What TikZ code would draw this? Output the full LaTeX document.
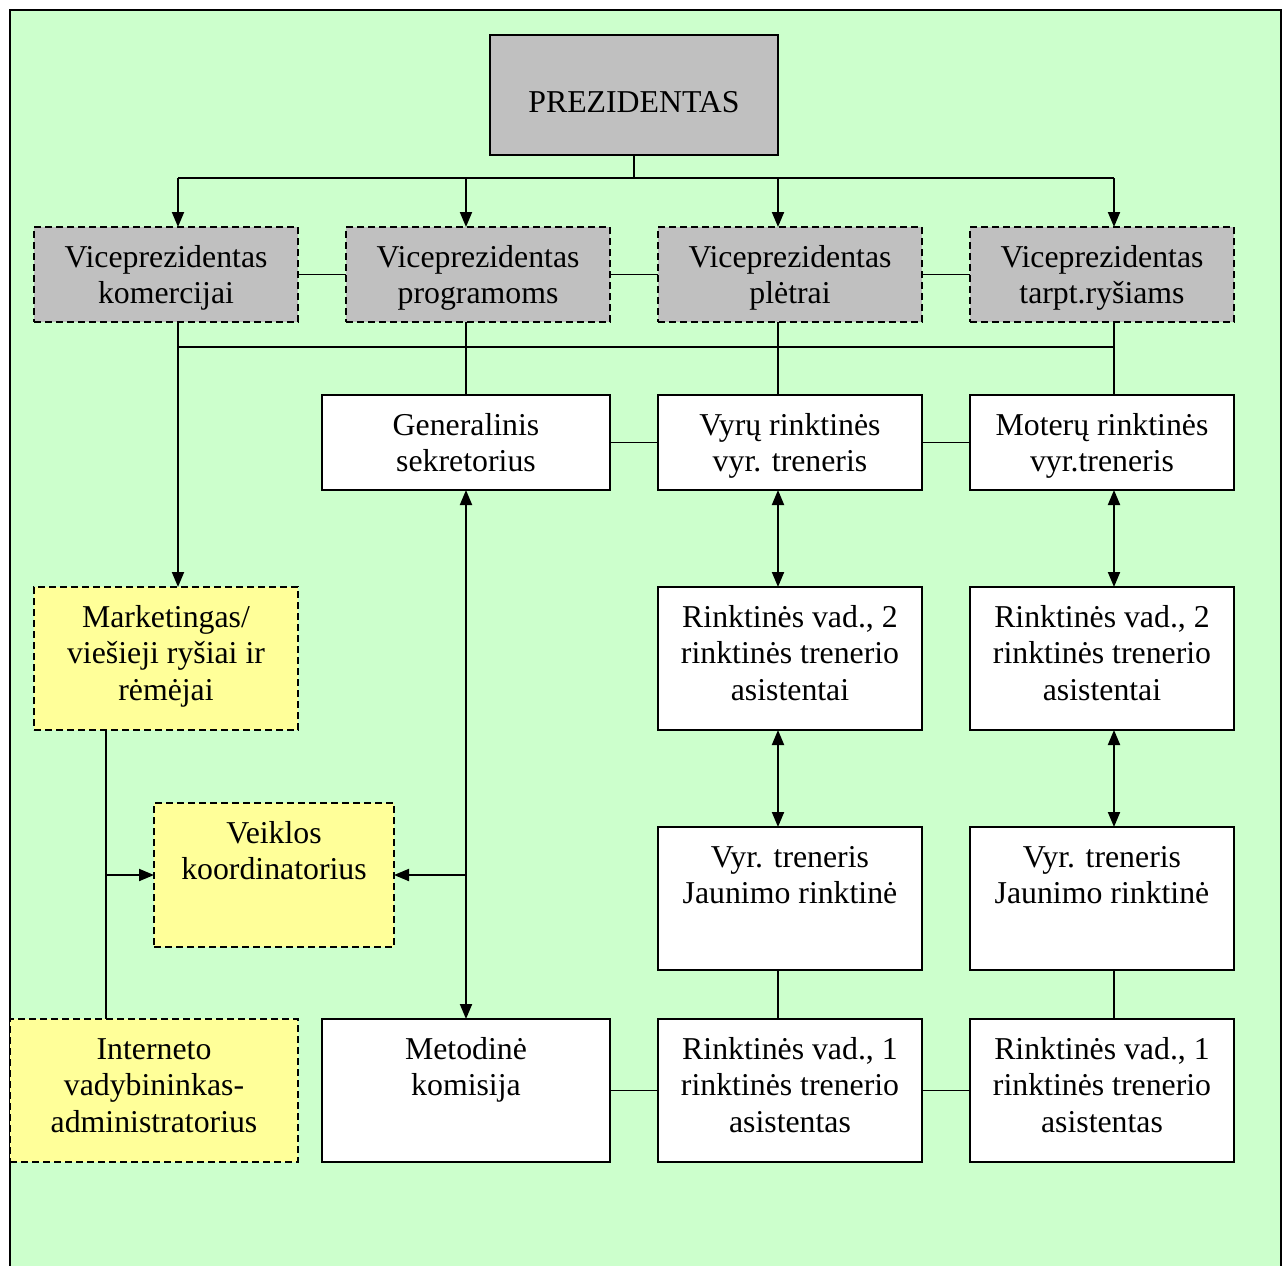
\documentclass[tikz,border=0pt]{standalone}
\usepackage{fontspec}
\setmainfont{Liberation Serif}
\usetikzlibrary{arrows.meta}
\definecolor{bggreen}{HTML}{CCFFCC}
\definecolor{boxgray}{HTML}{C0C0C0}
\definecolor{boxyel}{HTML}{FFFF99}
\tikzset{
  orgbox/.style={draw=black, line width=1.9pt, fill=white, inner sep=0pt, outer sep=0pt},
  vpbox/.style={orgbox, fill=boxgray, dash pattern=on 7pt off 4pt},
  yelbox/.style={orgbox, fill=boxyel, dash pattern=on 7pt off 4pt},
  presbox/.style={orgbox, fill=boxgray},
  conn/.style={line width=1.9pt},
  arr/.style={conn, -{Triangle[length=15pt,width=12pt]}},
  darr/.style={conn, {Triangle[length=15pt,width=12pt]}-{Triangle[length=15pt,width=12pt]}},
}
\newcommand\orgnode[8]{%
  \node[#2] (#1) at ({(#3+#5)/2},{(#4+#6)/2})
  {\parbox[t][\dimexpr #6pt-#4pt\relax][t]{\dimexpr #5pt-#3pt\relax}{\centering\fontsize{31.8}{36.8}\selectfont\rule{0pt}{#8}#7\par}};}
\begin{document}
\begin{tikzpicture}[x=1pt,y=-1pt]
\useasboundingbox (0,0) rectangle (1285,1266);
\fill[white] (0,0) rectangle (1285,1266);
\fill[bggreen] (10,10) rectangle (1281,1266);
\draw[line width=1.9pt] (10,1270) -- (10,10) -- (1281,10) -- (1281,1270);

% columns
\coordinate (cM) at (106,0);
\coordinate (c1) at (178,0);
\coordinate (c2) at (466,0);
\coordinate (c3) at (778,0);
\coordinate (c4) at (1114,0);
\coordinate (busT) at (0,178);
\coordinate (busM) at (0,347);

% nodes
\orgnode{pres}{presbox}{490}{35}{778}{155}{PREZIDENTAS}{77pt}
\orgnode{vp1}{vpbox}{34}{227}{298}{322}{Viceprezidentas\\komercijai}{40pt}
\orgnode{vp2}{vpbox}{346}{227}{610}{322}{Viceprezidentas\\programoms}{40pt}
\orgnode{vp3}{vpbox}{658}{227}{922}{322}{Viceprezidentas\\plėtrai}{40pt}
\orgnode{vp4}{vpbox}{970}{227}{1234}{322}{Viceprezidentas\\tarpt.ryšiams}{40pt}
\orgnode{gs}{orgbox}{322}{395}{610}{490}{Generalinis\\sekretorius}{40pt}
\orgnode{vr}{orgbox}{658}{395}{922}{490}{Vyrų rinktinės\\vyr. treneris}{40pt}
\orgnode{mt}{orgbox}{970}{395}{1234}{490}{Moterų rinktinės\\vyr.treneris}{40pt}
\orgnode{mk}{yelbox}{34}{587}{298}{730}{Marketingas/\\viešieji ryšiai ir\\rėmėjai}{40pt}
\orgnode{rva}{orgbox}{658}{587}{922}{730}{Rinktinės vad., 2\\rinktinės trenerio\\asistentai}{40pt}
\orgnode{rvb}{orgbox}{970}{587}{1234}{730}{Rinktinės vad., 2\\rinktinės trenerio\\asistentai}{40pt}
\orgnode{vk}{yelbox}{154}{803}{394}{947}{Veiklos\\koordinatorius}{40pt}
\orgnode{jra}{orgbox}{658}{827}{922}{970}{Vyr. treneris\\Jaunimo rinktinė}{40pt}
\orgnode{jrb}{orgbox}{970}{827}{1234}{970}{Vyr. treneris\\Jaunimo rinktinė}{40pt}
\orgnode{in}{yelbox}{10}{1019}{298}{1162}{Interneto\\vadybininkas-\\administratorius}{40pt}
\orgnode{met}{orgbox}{322}{1019}{610}{1162}{Metodinė\\komisija}{40pt}
\orgnode{raa}{orgbox}{658}{1019}{922}{1162}{Rinktinės vad., 1\\rinktinės trenerio\\asistentas}{40pt}
\orgnode{rab}{orgbox}{970}{1019}{1234}{1162}{Rinktinės vad., 1\\rinktinės trenerio\\asistentas}{40pt}

% top bus
\draw[conn] (pres.south) -- (pres.south |- busT);
\draw[conn] (c1 |- busT) -- (c4 |- busT);
\draw[arr] (c1 |- busT) -- (c1 |- vp1.north);
\draw[arr] (c2 |- busT) -- (c2 |- vp2.north);
\draw[arr] (c3 |- busT) -- (c3 |- vp3.north);
\draw[arr] (c4 |- busT) -- (c4 |- vp4.north);

% VP links
\draw[conn] (vp1.east) -- (vp2.west);
\draw[conn] (vp2.east) -- (vp3.west);
\draw[conn] (vp3.east) -- (vp4.west);

% middle bus
\draw[conn] (c1 |- busM) -- (c4 |- busM);
\draw[arr] (c1 |- vp1.south) -- (c1 |- mk.north);
\draw[conn] (c2 |- vp2.south) -- (gs.north);
\draw[conn] (c3 |- vp3.south) -- (c3 |- vr.north);
\draw[conn] (c4 |- vp4.south) -- (c4 |- mt.north);

% row 2 links
\draw[conn] (gs.east) -- (vr.west);
\draw[conn] (vr.east) -- (mt.west);

% double arrows
\draw[darr] (c3 |- vr.south) -- (c3 |- rva.north);
\draw[darr] (c4 |- mt.south) -- (c4 |- rvb.north);
\draw[darr] (c3 |- rva.south) -- (c3 |- jra.north);
\draw[darr] (c4 |- rvb.south) -- (c4 |- jrb.north);
\draw[conn] (c3 |- jra.south) -- (c3 |- raa.north);
\draw[conn] (c4 |- jrb.south) -- (c4 |- rab.north);

% generalinis - metodine
\draw[darr] (gs.south) -- (met.north);
\draw[arr] (gs.south |- vk.east) -- (vk.east);

% marketing - internet
\draw[conn] (cM |- mk.south) -- (cM |- in.north);
\draw[arr] (cM |- vk.west) -- (vk.west);

% bottom links
\draw[conn] (met.east) -- (raa.west);
\draw[conn] (raa.east) -- (rab.west);
\end{tikzpicture}
\end{document}
